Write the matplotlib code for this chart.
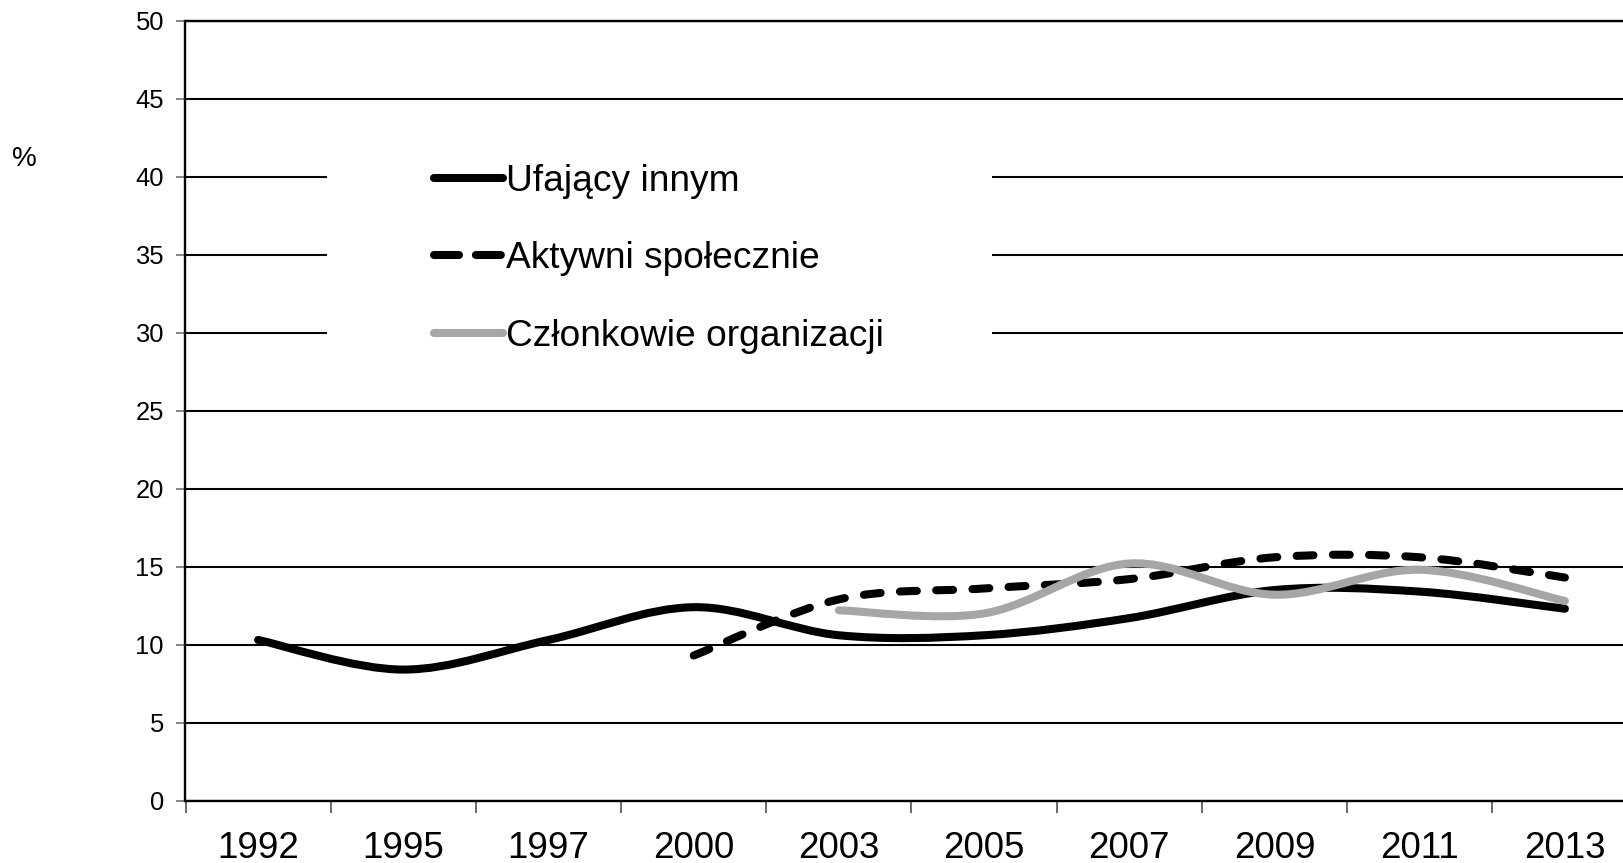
import numpy as np
import matplotlib
matplotlib.use('Agg')
import matplotlib.pyplot as plt
from matplotlib.path import Path
from matplotlib.patches import PathPatch, Rectangle
from matplotlib.lines import Line2D

plt.rcParams['font.family'] = ['Liberation Sans', 'DejaVu Sans']

years = ['1992', '1995', '1997', '2000', '2003', '2005', '2007', '2009', '2011', '2013']
ufajacy = [10.3, 8.4, 10.3, 12.4, 10.6, 10.6, 11.7, 13.5, 13.4, 12.3]
aktywni_years = ['2000', '2003', '2005', '2007', '2009', '2011', '2013']
aktywni = [9.3, 12.9, 13.6, 14.2, 15.6, 15.6, 14.3]
czlonkowie_years = ['2003', '2005', '2007', '2009', '2011', '2013']
czlonkowie = [12.2, 12.0, 15.2, 13.2, 14.8, 12.8]
labels = ['Ufający innym', 'Aktywni społecznie', 'Członkowie organizacji']

W, H = 1624, 863
fig = plt.figure(figsize=(W / 100, H / 100), dpi=100)
ax = fig.add_axes([185.5 / W, 1 - 800.6 / H, 1 - 185.5 / W, (800.6 - 20.7) / H])


def smooth_path(xs, ys):
    # excel style smoothed line: catmull-rom segments as cubic beziers
    p = np.column_stack([xs, ys]).astype(float)
    n = len(p)
    verts = [p[0]]
    codes = [Path.MOVETO]
    for i in range(n - 1):
        prev = p[i - 1] if i > 0 else p[i]
        nxt = p[i + 2] if i + 2 < n else p[i + 1]
        c1 = p[i] + (p[i + 1] - prev) / 6.0
        c2 = p[i + 1] - (nxt - p[i]) / 6.0
        verts += [c1, c2, p[i + 1]]
        codes += [Path.CURVE4] * 3
    return Path(verts, codes)


lw = 5.8
series = [
    (years, ufajacy, 'black', '-'),
    (aktywni_years, aktywni, 'black', (0, (2.1, 2.4))),
    (czlonkowie_years, czlonkowie, '#a6a6a6', '-'),
]
for yrs, vals, col, ls in series:
    xs = [years.index(y) for y in yrs]
    patch = PathPatch(smooth_path(xs, vals), fill=False, edgecolor=col, lw=lw,
                      linestyle=ls, capstyle='round', joinstyle='round', zorder=3)
    ax.add_patch(patch)

ax.set_xlim(-0.5, -0.5 + (W - 185.5) / 145.2)
ax.set_ylim(0, 50)
ax.set_yticks(np.arange(0, 51, 5))
ax.tick_params(axis='y', labelsize=18.4, length=6.5, width=1.2, color='#707070', pad=9)

ax.set_xticks(np.arange(len(years)) - 0.5)
ax.set_xticklabels([])
ax.set_xticks(np.arange(len(years)), minor=True)
ax.set_xticklabels(years, minor=True, fontsize=26.5)
ax.tick_params(axis='x', which='major', length=8.6, width=1.2, color='#505050')
ax.tick_params(axis='x', which='minor', length=0, pad=22)
ax.grid(axis='y', color='black', lw=1.5)
ax.set_axisbelow(True)
for s in ['left', 'bottom', 'top']:
    ax.spines[s].set_linewidth(1.7)
ax.spines['right'].set_visible(False)

# white legend box covering grid lines
ax.add_patch(Rectangle((327 / W, 1 - 368 / H), (992 - 327) / W, (368 - 122) / H,
                       transform=fig.transFigure, facecolor='white', edgecolor='none',
                       zorder=2))

handles = [
    Line2D([], [], color='black', lw=lw, solid_capstyle='round'),
    Line2D([], [], color='black', lw=lw, ls=(0, (3.1, 2.1)), dash_capstyle='round'),
    Line2D([], [], color='#a6a6a6', lw=lw, solid_capstyle='round'),
]
leg = ax.legend(handles, labels, loc='upper left', bbox_to_anchor=(434 / W, 1 - 164 / H),
                bbox_transform=fig.transFigure, frameon=False, fontsize=26.7,
                borderpad=0, borderaxespad=0, handlelength=1.85, handletextpad=0.1,
                labelspacing=1.145)
leg.set_zorder(5)

fig.text(24 / W, 1 - 159 / H, '%', fontsize=20, ha='center', va='center')

fig.savefig('out.png', dpi=100)
